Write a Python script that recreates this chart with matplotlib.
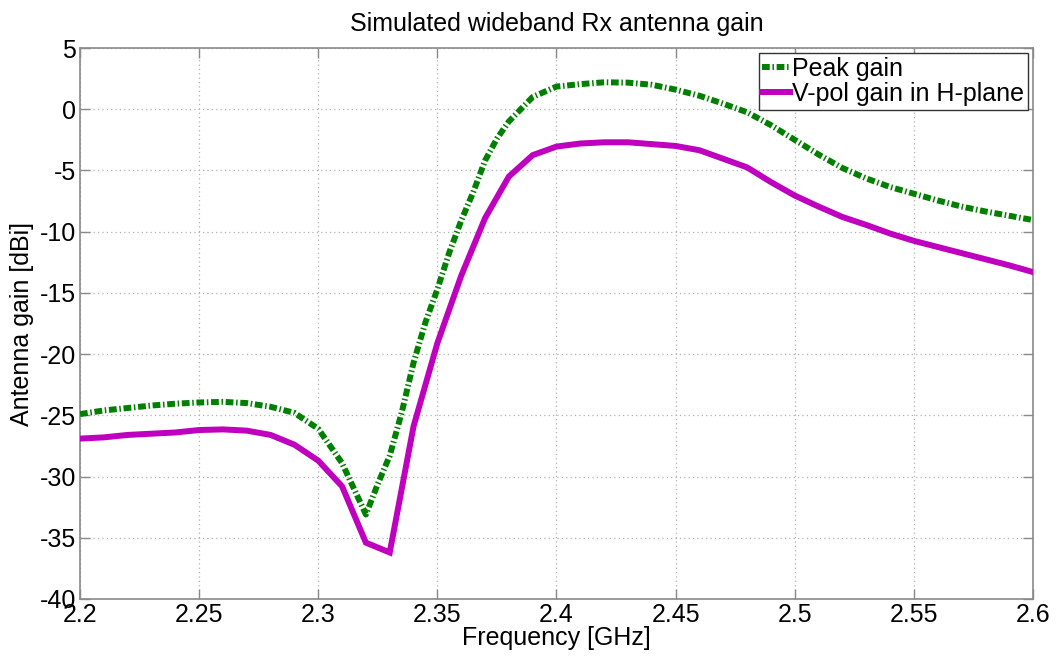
import matplotlib
matplotlib.use("Agg")
import matplotlib.pyplot as plt

# ---- data ----
freq_vpol = [2.20, 2.21, 2.22, 2.23, 2.24, 2.25, 2.26, 2.27, 2.28, 2.29, 2.30,
             2.31, 2.32, 2.33, 2.34, 2.35, 2.36, 2.37, 2.38, 2.39, 2.40,
             2.41, 2.42, 2.43, 2.44, 2.45, 2.46, 2.47, 2.48, 2.49, 2.50,
             2.51, 2.52, 2.53, 2.54, 2.55, 2.56, 2.57, 2.58, 2.59, 2.60]
gain_vpol = [-26.9, -26.8, -26.6, -26.5, -26.4, -26.2, -26.15, -26.25, -26.6, -27.4, -28.7,
             -30.8, -35.4, -36.2, -25.9, -19.1, -13.6, -8.9, -5.5, -3.75, -3.05,
             -2.8, -2.7, -2.7, -2.85, -3.0, -3.35, -4.05, -4.75, -5.95, -7.05,
             -7.95, -8.8, -9.45, -10.15, -10.75, -11.25, -11.75, -12.25, -12.75, -13.3]

freq_peak = [2.20, 2.21, 2.22, 2.23, 2.24, 2.25, 2.26, 2.27, 2.28, 2.29, 2.30,
             2.31, 2.32, 2.325, 2.33, 2.335, 2.34, 2.345, 2.35, 2.355, 2.36,
             2.365, 2.37, 2.375, 2.38, 2.385, 2.39, 2.40,
             2.41, 2.42, 2.43, 2.44, 2.45, 2.46, 2.47, 2.48, 2.49, 2.50,
             2.51, 2.52, 2.53, 2.54, 2.55, 2.56, 2.57, 2.58, 2.59, 2.60]
gain_peak = [-24.9, -24.6, -24.4, -24.2, -24.05, -23.95, -23.9, -24.0, -24.3, -24.8, -26.1,
             -28.9, -33.1, -30.6, -28.3, -24.8, -20.7, -17.4, -14.7, -11.7, -9.1,
             -6.8, -4.2, -2.4, -1.0, 0.0, 1.0, 1.85,
             2.05, 2.2, 2.17, 2.0, 1.6, 1.1, 0.45, -0.25, -1.3, -2.5,
             -3.7, -4.8, -5.65, -6.35, -6.9, -7.45, -7.95, -8.35, -8.7, -9.05]

xticks = [2.2, 2.25, 2.3, 2.35, 2.4, 2.45, 2.5, 2.55, 2.6]
xticklabels = ["2.2", "2.25", "2.3", "2.35", "2.4", "2.45", "2.5", "2.55", "2.6"]
yticks = [-40, -35, -30, -25, -20, -15, -10, -5, 0, 5]

title = "Simulated wideband Rx antenna gain"
xlabel = "Frequency [GHz]"
ylabel = "Antenna gain [dBi]"
labels = ["Peak gain", "V-pol gain in H-plane"]

# ---- figure ----
plt.rcParams['font.family'] = ['Liberation Sans', 'DejaVu Sans']
plt.rcParams['axes.unicode_minus'] = False
FS = 18
W, H = 1058, 658
fig = plt.figure(figsize=(W / 100, H / 100), dpi=100)
ax = fig.add_axes([80 / W, 1 - 599 / H, (1033 - 80) / W, (599 - 48) / H])

green = '#007f00'
magenta = '#bf00bf'
ax.plot(freq_peak, gain_peak, color=green, lw=4.3, linestyle='-',
        dashes=(1.3, 0.45, 0.25, 0.45), dash_capstyle='butt', label=labels[0], zorder=3)
ax.plot(freq_vpol, gain_vpol, color=magenta, lw=4.3, solid_joinstyle='miter',
        label=labels[1], zorder=3)

ax.set_xlim(2.2, 2.6)
ax.set_ylim(-40, 5)
ax.set_xticks(xticks)
ax.set_xticklabels(xticklabels)
ax.set_yticks(yticks)

axcol = '#8a8a8a'
for s in ax.spines.values():
    s.set_color(axcol)
    s.set_linewidth(1.2)
ax.tick_params(direction='in', length=7, width=1, colors=axcol, labelcolor='black',
               labelsize=FS, top=True, right=True, pad=3)
ax.grid(True, color='#b0b0b0', linestyle=(0, (1, 2.5)), linewidth=0.9)
ax.set_axisbelow(True)

ax.set_title(title, fontsize=FS, pad=12)
ax.set_xlabel(xlabel, fontsize=FS, labelpad=-1)
ax.set_ylabel(ylabel, fontsize=FS, labelpad=4)

leg = ax.legend(loc='upper right', fontsize=FS, handlelength=1.1, handletextpad=0.1,
                borderpad=0.15, labelspacing=0.05, borderaxespad=0.2, fancybox=False,
                framealpha=1)
leg.get_frame().set_edgecolor('#333333')
leg.get_frame().set_linewidth(1.0)

fig.savefig("out.png", dpi=100, facecolor='white')
